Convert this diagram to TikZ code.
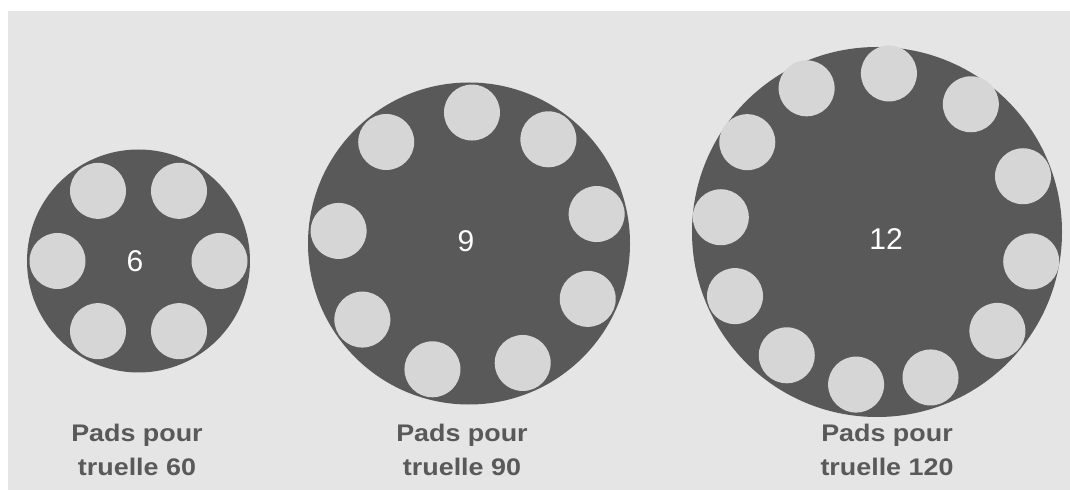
\documentclass[tikz,border=0pt]{standalone}
\usepackage{fontspec}
\setmainfont{Liberation Sans}
\usetikzlibrary{positioning}
\definecolor{cdisc}{HTML}{595959}
\definecolor{cpad}{HTML}{D6D6D6}
\definecolor{cback}{HTML}{E5E5E5}
\tikzset{
  disc/.style={circle, fill=cdisc, inner sep=0pt, minimum size=#1},
  pad/.style={fill=cpad},
  count/.style={text=white, inner sep=0pt, font=\fontsize{30}{36}\selectfont},
  caption/.style={text=cdisc, align=center, inner sep=0pt, anchor=base, xscale=1.12, font=\bfseries\fontsize{24}{33.3}\selectfont},
}

\begin{document}
\begin{tikzpicture}[x=1pt, y=1pt]
  \useasboundingbox (0,0) rectangle (1070,490);
  \fill[cback] (8,0) rectangle (1070,479);
  % trowel 60: six pads
  \node[disc=223pt] (w60) at (138.5,229) {};
  \foreach \a in {0,60,...,300}
    \fill[pad] (w60.center) ++(\a:81) circle (28pt);
  \node[count] (n60) at (135,229) {6};
  \node[caption] (l60) at (137,15) {Pads pour\\truelle 60};
  % trowel 90: nine pads
  \node[disc=322pt] (w90) at (469,246.5) {};
  \foreach \a in {88.7,52.7,13,-25,-65.8,-106.2,-144.5,174.5,129.2}
    \fill[pad] (w90.center) ++(\a:131) circle (28pt);
  \node[count] (n90) at (466,248.6) {9};
  \node[caption] (l90) at (462,15) {Pads pour\\truelle 90};
  % trowel 120: twelve pads
  \node[disc=370pt] (w120) at (877,258) {};
  \foreach \a/\d in {85.7/159,53.7/158.5,20.9/156.3,-10.8/157,-39.4/155.8,-69.8/155,
                     -97.8/154,-126.2/152.8,-155.7/155.8,174.6/156.9,145.3/157.8,116.1/160}
    \fill[pad] (w120.center) ++(\a:\d) circle (28pt);
  \node[count] (n120) at (886,251) {12};
  \node[caption] (l120) at (887,15) {Pads pour\\truelle 120};
\end{tikzpicture}
\end{document}
